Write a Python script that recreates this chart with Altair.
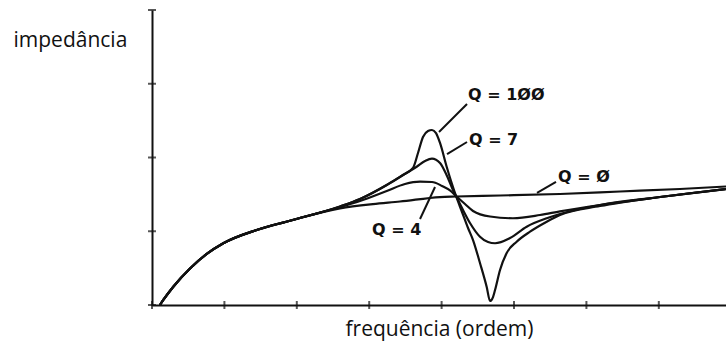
import altair as alt
import pandas as pd

# ---- data (arbitrary units: frequency 0..~8, impedance 0..4) ----
freq_base = [0.110, 0.156, 0.294, 0.525, 0.756, 0.985, 1.446, 1.906]
imp_base = [0.000, 0.068, 0.248, 0.495, 0.692, 0.837, 1.017, 1.143]

freq_q0 = [2.597, 3.052, 3.425, 3.978, 4.199, 4.807, 5.635, 6.464, 7.293, 7.928]
imp_q0 = [1.311, 1.369, 1.403, 1.464, 1.471, 1.485, 1.505, 1.539, 1.573, 1.607]

freq_q4 = [2.597, 2.873, 3.242, 3.494, 3.702, 3.867, 4.006, 4.116, 4.199, 4.323,
           4.434, 4.669, 4.986, 5.359, 5.635, 6.188, 7.017, 7.928]
imp_q4 = [1.329, 1.410, 1.546, 1.641, 1.672, 1.668, 1.614, 1.553, 1.478, 1.369,
          1.275, 1.200, 1.176, 1.220, 1.270, 1.356, 1.464, 1.573]

freq_q7 = [2.597, 2.873, 3.242, 3.467, 3.656, 3.771, 3.867, 3.978, 4.075, 4.157,
           4.199, 4.282, 4.392, 4.530, 4.641, 4.738, 4.945, 5.175, 5.452, 5.635,
           6.188, 7.017, 7.928]
imp_q7 = [1.336, 1.437, 1.627, 1.763, 1.875, 1.953, 1.986, 1.925, 1.749, 1.559,
          1.478, 1.315, 1.112, 0.926, 0.854, 0.837, 0.908, 1.062, 1.176, 1.234,
          1.356, 1.464, 1.573]

freq_q100 = [2.597, 2.873, 3.242, 3.467, 3.605, 3.674, 3.743, 3.812, 3.867, 3.923,
             3.978, 4.070, 4.130, 4.199, 4.282, 4.365, 4.434, 4.530, 4.623, 4.669,
             4.710, 4.738, 4.807, 4.899, 5.037, 5.221, 5.452, 5.635, 6.188, 7.017,
             7.928]
imp_q100 = [1.336, 1.437, 1.627, 1.763, 1.858, 2.061, 2.278, 2.359, 2.373, 2.332,
            2.197, 1.875, 1.681, 1.478, 1.261, 1.044, 0.881, 0.569, 0.244, 0.054,
            0.108, 0.203, 0.475, 0.705, 0.858, 0.994, 1.129, 1.220, 1.342, 1.464,
            1.573]

x_ticks = [0, 1, 2, 3, 4, 5, 6, 7]
y_ticks = [0, 1, 2, 3, 4]

label_text = ["Q = 1ØØ", "Q = 7", "Q = Ø", "Q = 4"]
label_x = [4.365, 4.378, 5.608, 3.039]
label_y = [2.847, 2.237, 1.736, 1.017]
leader_x = [3.964, 4.075, 5.318, 3.702]
leader_y = [2.346, 2.047, 1.519, 1.166]
leader_x2 = [4.351, 4.351, 5.580, 3.909]
leader_y2 = [2.725, 2.210, 1.668, 1.600]

# ---- tables ----
rows = []
def add(name, xs, ys):
    for a, b in zip(xs, ys):
        rows.append({"series": name, "f": a, "z": b})

add("Q=0", freq_base + freq_q0, imp_base + imp_q0)
add("Q=4", freq_base + freq_q4, imp_base + imp_q4)
add("Q=7", freq_base + freq_q7, imp_base + imp_q7)
add("Q=100", freq_base + freq_q100, imp_base + imp_q100)
curves = pd.DataFrame(rows)

labels = pd.DataFrame({"text": label_text, "x": label_x, "y": label_y,
                       "lx": leader_x, "ly": leader_y, "lx2": leader_x2, "ly2": leader_y2})
xt = pd.DataFrame({"t": x_ticks})
yt = pd.DataFrame({"t": y_ticks})

INK = "#111111"
FONT = "Open Sans"

xscale = alt.Scale(domain=[0, 7.928], nice=False, zero=False)
yscale = alt.Scale(domain=[0, 4], nice=False, zero=False)

xaxis = alt.Axis(domain=True, domainColor=INK, domainWidth=2, ticks=False, labels=False,
                 grid=False, title="frequência (ordem)", titleFont=FONT, titleFontSize=21,
                 titleFontWeight="normal", titleColor="#111111", titleBaseline="alphabetic",
                 titleY=30)
yaxis = alt.Axis(domain=True, domainColor=INK, domainWidth=2, ticks=False, labels=False,
                 grid=False, title="impedância", titleFont=FONT, titleFontSize=21,
                 titleFontWeight="normal", titleColor="#111111", titleAngle=0,
                 titleAlign="left", titleBaseline="alphabetic", titleX=-139, titleY=36)

lines = alt.Chart(curves).mark_line(interpolate="monotone", color=INK, strokeWidth=2.2).encode(
    x=alt.X("f:Q", scale=xscale, axis=xaxis),
    y=alt.Y("z:Q", scale=yscale, axis=yaxis),
    detail="series:N",
)

xtick_marks = alt.Chart(xt).mark_tick(orient="vertical", size=8, thickness=2, color=INK).encode(
    x=alt.X("t:Q", scale=xscale), y=alt.datum(0)
)
ytick_marks = alt.Chart(yt).mark_tick(orient="horizontal", size=8, thickness=2, color=INK).encode(
    x=alt.datum(0), y=alt.Y("t:Q", scale=yscale)
)

leaders = alt.Chart(labels).mark_rule(color=INK, strokeWidth=2).encode(
    x="lx:Q", y="ly:Q", x2="lx2:Q", y2="ly2:Q"
)
texts = alt.Chart(labels).mark_text(align="left", baseline="middle", font="DejaVu Sans",
                                    fontSize=16, fontWeight="bold", color=INK).encode(
    x="x:Q", y="y:Q", text="text:N"
)

chart = alt.layer(lines, xtick_marks, ytick_marks, leaders, texts).properties(
    width=574, height=295,
    padding={"left": 152, "top": 10, "right": 0, "bottom": 42},
    autosize=alt.AutoSizeParams(type="none"),
    background="white",
).configure_view(stroke=None)

chart.save("out.html", embed_options={"renderer": "svg", "actions": False})
